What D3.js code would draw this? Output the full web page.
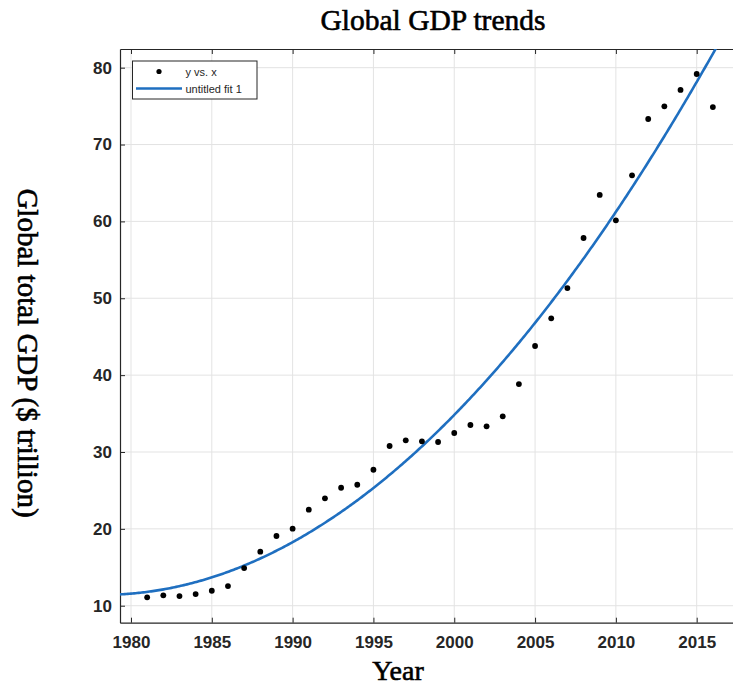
<!DOCTYPE html>
<html>
<head>
<meta charset="utf-8">
<script src="https://cdn.jsdelivr.net/npm/d3@7"></script>
<style>
  html, body { margin: 0; padding: 0; background: #fff; }
  svg { display: block; }
</style>
</head>
<body>
<svg id="chart" width="733" height="688"></svg>
<script>
// Global GDP per year, in trillions of US dollars
const years = d3.range(1981, 2017);
const gdp = [11.09, 11.35, 11.26, 11.52, 11.95, 12.56, 14.90, 17.03, 19.07, 20.02,
             22.49, 23.97, 25.35, 25.74, 27.69, 30.78, 31.52, 31.39, 31.30, 32.47,
             33.51, 33.34, 34.64, 38.84, 43.79, 47.39, 51.33, 57.84, 63.44, 60.14,
             66.00, 73.32, 74.97, 77.10, 79.18, 74.88];
const xTicks = [1980, 1985, 1990, 1995, 2000, 2005, 2010, 2015];
const yTicks = [10, 20, 30, 40, 50, 60, 70, 80];
const legendLabels = ["y vs. x", "untitled fit 1"];

const svg = d3.select("#chart");
const plotLeft = 120, plotTop = 49, plotBottom = 622.7;
const xDomain = [1979.32, 2017.9];
const x = d3.scaleLinear().domain(xDomain).range([plotLeft, plotLeft + (xDomain[1] - xDomain[0]) * 16.163]);
const y = d3.scaleLinear().domain([7.79, 82.43]).range([plotBottom, plotTop]);
const plotRight = x.range()[1];

// Quadratic least-squares fit of gdp against year (centred for stability)
function polyfit2(xs, ys) {
  const m = d3.mean(xs);
  const t = xs.map(v => v - m);
  const S = k => d3.sum(t, v => Math.pow(v, k));
  const T = k => d3.sum(t, (v, i) => Math.pow(v, k) * ys[i]);
  const A = [[S(0), S(1), S(2)], [S(1), S(2), S(3)], [S(2), S(3), S(4)]];
  const b = [T(0), T(1), T(2)];
  for (let i = 0; i < 3; i++) {
    for (let j = i + 1; j < 3; j++) {
      const f = A[j][i] / A[i][i];
      for (let k = i; k < 3; k++) A[j][k] -= f * A[i][k];
      b[j] -= f * b[i];
    }
  }
  const c = [0, 0, 0];
  for (let i = 2; i >= 0; i--) {
    let s = b[i];
    for (let k = i + 1; k < 3; k++) s -= A[i][k] * c[k];
    c[i] = s / A[i][i];
  }
  return v => c[0] + c[1] * (v - m) + c[2] * (v - m) * (v - m);
}
const fit = polyfit2(years, gdp);

svg.append("defs").append("clipPath").attr("id", "plotClip")
  .append("rect").attr("x", plotLeft).attr("y", plotTop)
  .attr("width", plotRight - plotLeft).attr("height", plotBottom - plotTop);

// Grid
const grid = svg.append("g").attr("stroke", "#e3e3e3").attr("stroke-width", 1);
grid.selectAll(".gx").data(xTicks).join("line").attr("class", "gx")
  .attr("x1", d => x(d)).attr("x2", d => x(d)).attr("y1", plotTop).attr("y2", plotBottom);
grid.selectAll(".gy").data(yTicks).join("line").attr("class", "gy")
  .attr("x1", plotLeft).attr("x2", plotRight).attr("y1", d => y(d)).attr("y2", d => y(d));

// Axes (ticks point inward)
const axisColor = "#262626";
const xAxis = svg.append("g").attr("transform", `translate(0,${plotBottom})`)
  .call(d3.axisBottom(x).tickValues(xTicks).tickFormat(d3.format("d")).tickSizeInner(-5).tickSizeOuter(0).tickPadding(13));
const xTop = svg.append("g").attr("transform", `translate(0,${plotTop})`)
  .call(d3.axisTop(x).tickValues(xTicks).tickFormat("").tickSizeInner(-5).tickSizeOuter(0));
const yAxis = svg.append("g").attr("transform", `translate(${plotLeft},0)`)
  .call(d3.axisLeft(y).tickValues(yTicks).tickFormat(d3.format("d")).tickSizeInner(-5).tickSizeOuter(0).tickPadding(8));
[xAxis, xTop, yAxis].forEach(g => {
  g.select(".domain").attr("stroke", axisColor).attr("stroke-width", 1.2);
  g.selectAll(".tick line").attr("stroke", axisColor);
  g.selectAll(".tick text")
    .attr("fill", axisColor)
    .style("font-family", "'Liberation Sans', Arial, sans-serif")
    .style("font-weight", "bold")
    .style("font-size", "17px");
});

// Fitted curve
const xs = d3.range(0, 401).map(i => xDomain[0] + (xDomain[1] - xDomain[0]) * i / 400);
svg.append("path")
  .datum(xs)
  .attr("clip-path", "url(#plotClip)")
  .attr("fill", "none")
  .attr("stroke", "#1f6fc0")
  .attr("stroke-width", 2.6)
  .attr("d", d3.line().x(d => x(d)).y(d => y(fit(d))));

// Observations
svg.append("g").selectAll("circle").data(years).join("circle")
  .attr("cx", d => x(d))
  .attr("cy", (d, i) => y(gdp[i]))
  .attr("r", 2.9)
  .attr("fill", "#000");

// Legend
const lg = svg.append("g");
lg.append("rect").attr("x", 132.5).attr("y", 61).attr("width", 124.5).attr("height", 38)
  .attr("fill", "#fff").attr("stroke", axisColor).attr("stroke-width", 1);
lg.append("circle").attr("cx", 159).attr("cy", 71.5).attr("r", 2.6).attr("fill", "#000");
lg.append("line").attr("x1", 136).attr("x2", 182).attr("y1", 88.5).attr("y2", 88.5)
  .attr("stroke", "#1f6fc0").attr("stroke-width", 2.6);
lg.selectAll("text").data(legendLabels).join("text")
  .attr("x", 185.5).attr("y", (d, i) => i === 0 ? 76 : 93)
  .attr("fill", axisColor)
  .style("font-family", "'Liberation Sans', Arial, sans-serif")
  .style("font-size", "11px")
  .text(d => d);

// Titles
const serif = "'Liberation Serif', 'Times New Roman', serif";
function label(sel) {
  return sel.style("font-family", serif).attr("fill", "#000")
    .attr("stroke", "#000").attr("stroke-width", 0.6);
}
label(svg.append("text").attr("x", 433).attr("y", 30).attr("text-anchor", "middle"))
  .style("font-size", "29.5px").text("Global GDP trends");
label(svg.append("text").attr("x", 398).attr("y", 680).attr("text-anchor", "middle"))
  .style("font-size", "28px").text("Year");
label(svg.append("text").attr("transform", "translate(18,353) rotate(90)").attr("text-anchor", "middle"))
  .style("font-size", "29px").text("Global total GDP ($ trillion)");
</script>
</body>
</html>
